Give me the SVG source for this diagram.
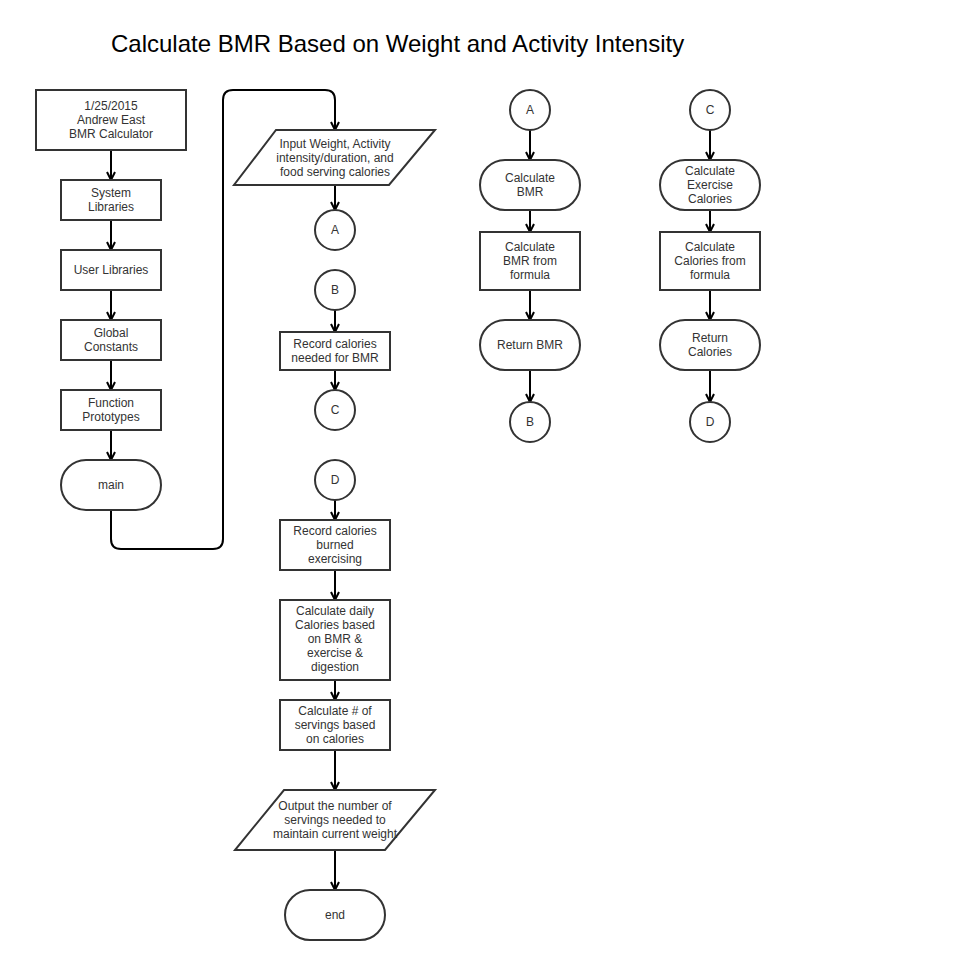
<svg xmlns="http://www.w3.org/2000/svg" width="963" height="960" viewBox="0 0 963 960">
<style>
.s{fill:#fff;stroke:#333;stroke-width:2}
.t{font-family:"Liberation Sans",Arial,sans-serif;font-size:12px;fill:#333;text-anchor:middle}
.c{fill:none;stroke:#000;stroke-width:2}
</style>
<defs>
<marker id="arr" viewBox="0 0 10 10" refX="9" refY="5" markerWidth="10" markerHeight="10" markerUnits="userSpaceOnUse" orient="auto">
<path d="M1,1 L9,5 L1,9" fill="none" stroke="#000" stroke-width="2"/>
</marker>
</defs>
<rect width="963" height="960" fill="#fff"/>
<text x="111" y="52" style="font-family:'Liberation Sans',Arial,sans-serif;font-size:24px;fill:#000">Calculate BMR Based on Weight and Activity Intensity</text>

<g id="connectors" class="c" marker-end="url(#arr)">
<path d="M111,150 V180"/>
<path d="M111,220 V250"/>
<path d="M111,290 V320"/>
<path d="M111,360 V390"/>
<path d="M111,430 V460"/>
<path d="M111,510 V539 Q111,549 121,549 H213 Q223,549 223,539 V100 Q223,90 233,90 H325 Q335,90 335,100 V130"/>
<path d="M335,185 V210"/>
<path d="M335,310 V332"/>
<path d="M335,370 V390"/>
<path d="M335,500 V520"/>
<path d="M335,570 V600"/>
<path d="M335,680 V700"/>
<path d="M335,750 V790"/>
<path d="M335,850 V890"/>
<path d="M530,130 V160"/>
<path d="M530,210 V232"/>
<path d="M530,290 V320"/>
<path d="M530,370 V402"/>
<path d="M710,130 V160"/>
<path d="M710,210 V232"/>
<path d="M710,290 V320"/>
<path d="M710,370 V402"/>
</g>

<g id="header"><rect class="s" x="36" y="90" width="150" height="60"/>
<text class="t"><tspan x="111" y="110">1/25/2015</tspan><tspan x="111" y="124">Andrew East</tspan><tspan x="111" y="138">BMR Calculator</tspan></text></g>
<g id="syslib"><rect class="s" x="61" y="180" width="100" height="40"/>
<text class="t"><tspan x="111" y="197">System</tspan><tspan x="111" y="211">Libraries</tspan></text></g>
<g id="userlib"><rect class="s" x="61" y="250" width="100" height="40"/>
<text class="t" x="111" y="274">User Libraries</text></g>
<g id="globals"><rect class="s" x="61" y="320" width="100" height="40"/>
<text class="t"><tspan x="111" y="337">Global</tspan><tspan x="111" y="351">Constants</tspan></text></g>
<g id="protos"><rect class="s" x="61" y="390" width="100" height="40"/>
<text class="t"><tspan x="111" y="407">Function</tspan><tspan x="111" y="421">Prototypes</tspan></text></g>
<g id="main"><rect class="s" x="61" y="460" width="100" height="50" rx="25"/>
<text class="t" x="111" y="489">main</text></g>

<g id="input"><polygon class="s" points="276,130 435,130 389,185 234,185"/>
<text class="t"><tspan x="335" y="148">Input Weight, Activity</tspan><tspan x="335" y="162">intensity/duration, and</tspan><tspan x="335" y="176">food serving calories</tspan></text></g>
<g id="offA1"><circle class="s" cx="335" cy="230" r="20"/><text class="t" x="335" y="234">A</text></g>
<g id="offB1"><circle class="s" cx="335" cy="290" r="20"/><text class="t" x="335" y="294">B</text></g>
<g id="recbmr"><rect class="s" x="280" y="332" width="110" height="38"/>
<text class="t"><tspan x="335" y="348">Record calories</tspan><tspan x="335" y="362">needed for BMR</tspan></text></g>
<g id="offC1"><circle class="s" cx="335" cy="410" r="20"/><text class="t" x="335" y="414">C</text></g>
<g id="offD1"><circle class="s" cx="335" cy="480" r="20"/><text class="t" x="335" y="484">D</text></g>
<g id="recex"><rect class="s" x="280" y="520" width="110" height="50"/>
<text class="t"><tspan x="335" y="535">Record calories</tspan><tspan x="335" y="549">burned</tspan><tspan x="335" y="563">exercising</tspan></text></g>
<g id="daily"><rect class="s" x="280" y="600" width="110" height="80"/>
<text class="t"><tspan x="335" y="615">Calculate daily</tspan><tspan x="335" y="629">Calories based</tspan><tspan x="335" y="643">on BMR &amp;</tspan><tspan x="335" y="657">exercise &amp;</tspan><tspan x="335" y="671">digestion</tspan></text></g>
<g id="servings"><rect class="s" x="280" y="700" width="110" height="50"/>
<text class="t"><tspan x="335" y="715">Calculate # of</tspan><tspan x="335" y="729">servings based</tspan><tspan x="335" y="743">on calories</tspan></text></g>
<g id="output"><polygon class="s" points="284,790 435,790 385,850 235,850"/>
<text class="t"><tspan x="335" y="810">Output the number of</tspan><tspan x="335" y="824">servings needed to</tspan><tspan x="335" y="838">maintain current weight</tspan></text></g>
<g id="end"><rect class="s" x="285" y="890" width="100" height="50" rx="25"/>
<text class="t" x="335" y="919">end</text></g>

<g id="offA2"><circle class="s" cx="530" cy="110" r="20"/><text class="t" x="530" y="114">A</text></g>
<g id="calcbmr"><rect class="s" x="480" y="160" width="100" height="50" rx="25"/>
<text class="t"><tspan x="530" y="182">Calculate</tspan><tspan x="530" y="196">BMR</tspan></text></g>
<g id="bmrformula"><rect class="s" x="480" y="232" width="100" height="58"/>
<text class="t"><tspan x="530" y="251">Calculate</tspan><tspan x="530" y="265">BMR from</tspan><tspan x="530" y="279">formula</tspan></text></g>
<g id="retbmr"><rect class="s" x="480" y="320" width="100" height="50" rx="25"/>
<text class="t" x="530" y="349">Return BMR</text></g>
<g id="offB2"><circle class="s" cx="530" cy="422" r="20"/><text class="t" x="530" y="426">B</text></g>

<g id="offC2"><circle class="s" cx="710" cy="110" r="20"/><text class="t" x="710" y="114">C</text></g>
<g id="calcex"><rect class="s" x="660" y="160" width="100" height="50" rx="25"/>
<text class="t"><tspan x="710" y="175">Calculate</tspan><tspan x="710" y="189">Exercise</tspan><tspan x="710" y="203">Calories</tspan></text></g>
<g id="calformula"><rect class="s" x="660" y="232" width="100" height="58"/>
<text class="t"><tspan x="710" y="251">Calculate</tspan><tspan x="710" y="265">Calories from</tspan><tspan x="710" y="279">formula</tspan></text></g>
<g id="retcal"><rect class="s" x="660" y="320" width="100" height="50" rx="25"/>
<text class="t"><tspan x="710" y="342">Return</tspan><tspan x="710" y="356">Calories</tspan></text></g>
<g id="offD2"><circle class="s" cx="710" cy="422" r="20"/><text class="t" x="710" y="426">D</text></g>
</svg>
